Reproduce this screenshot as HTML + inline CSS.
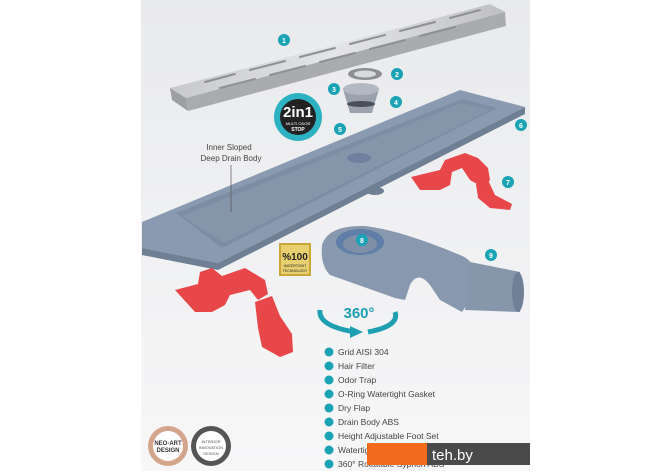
<!DOCTYPE html>
<html><head><style>
body{margin:0;width:670px;height:471px;overflow:hidden;background:#fff;font-family:"Liberation Sans",sans-serif}
</style></head><body>
<svg width="670" height="471" viewBox="0 0 670 471" xmlns="http://www.w3.org/2000/svg">
<defs>
<linearGradient id="bg" x1="0" y1="0" x2="0" y2="1"><stop offset="0" stop-color="#e9eaec"/><stop offset="1" stop-color="#f7f7f8"/></linearGradient>
<linearGradient id="st" x1="0" y1="0" x2="1" y2="0"><stop offset="0" stop-color="#c8c9cb"/><stop offset=".5" stop-color="#e4e5e6"/><stop offset="1" stop-color="#bfc0c2"/></linearGradient>
</defs>
<rect x="141" y="0" width="389" height="471" fill="url(#bg)"/>
<!-- grid -->
<polygon points="170,88 490,4 505,12 186,98" fill="url(#st)"/>
<polygon points="186,98 505,12 506,26 188,111" fill="#a9abae"/>
<polygon points="170,88 186,98 188,111 172,100" fill="#9d9fa2"/>
<g stroke="#8e9094" stroke-width="2" stroke-linecap="round">
<line x1="205" y1="82" x2="235" y2="74"/><line x1="250" y1="70" x2="285" y2="61"/><line x1="300" y1="57" x2="335" y2="48"/><line x1="350" y1="44" x2="385" y2="35"/><line x1="400" y1="31" x2="435" y2="22"/><line x1="450" y1="18" x2="480" y2="10"/>
<line x1="220" y1="88" x2="255" y2="79"/><line x1="270" y1="75" x2="305" y2="66"/><line x1="320" y1="62" x2="355" y2="53"/><line x1="370" y1="49" x2="405" y2="40"/><line x1="420" y1="36" x2="455" y2="27"/>
</g>
<!-- drain body -->
<polygon points="142,222 460,90 525,107 218,263 142,248" fill="#8a9ab0"/>
<polygon points="218,263 525,107 525,114 218,270 142,255 142,248" fill="#6f7f94"/>
<polygon points="176,213 462,99 497,108 222,248" fill="#7d8da3"/>
<polygon points="182,216 462,103 490,110 224,243" fill="#8595aa"/>
<ellipse cx="359" cy="158" rx="12" ry="5" fill="#7080a0"/>
<ellipse cx="375" cy="191" rx="9" ry="4" fill="#6f7f94"/>
<!-- filter parts -->
<ellipse cx="365" cy="74" rx="17" ry="6" fill="#8c8e92"/>
<ellipse cx="365" cy="74" rx="11" ry="3.5" fill="#d9dadc"/>
<path d="M343,89 L379,89 L372,113 L350,113 Z" fill="#9aa2ae"/>
<ellipse cx="361" cy="89" rx="18" ry="6" fill="#b3b9c2"/>
<ellipse cx="361" cy="104" rx="14" ry="3" fill="#4a4f57"/>
<!-- 2in1 badge -->
<circle cx="298" cy="117" r="24" fill="#2db2c4"/>
<circle cx="298" cy="117" r="18" fill="#222"/>
<text x="298" y="117" font-size="15" font-weight="bold" fill="#fff" text-anchor="middle">2in1</text>
<text x="298" y="125" font-size="4" fill="#fff" text-anchor="middle">MULTI ODOR</text>
<text x="298" y="131" font-size="5" font-weight="bold" fill="#fff" text-anchor="middle">STOP</text>
<!-- inner sloped label -->
<text x="229" y="150" font-size="8" fill="#444" text-anchor="middle">Inner Sloped</text>
<text x="231" y="161" font-size="8" fill="#444" text-anchor="middle">Deep Drain Body</text>
<line x1="231" y1="165" x2="231" y2="212" stroke="#555" stroke-width=".7"/>
<!-- right foot -->
<g fill="#e8474a">
<path d="M411,177 L440,170 L445,160 L465,153 L478,158 L488,168 L490,180 L484,188 L470,180 L462,168 L452,172 L450,185 L440,190 L420,190 Z"/>
<path d="M476,184 L488,180 L495,195 L512,204 L510,210 L490,208 L478,198 Z"/>
</g>
<!-- syphon -->
<path d="M322,245 Q328,225 365,226 Q400,230 460,255 Q478,262 472,280 L470,300 L462,312 L440,300 L430,285 Q418,270 410,285 L405,300 L395,298 L330,275 Q320,265 322,245 Z" fill="#8898ae"/>
<ellipse cx="360" cy="242" rx="24" ry="13" fill="#5f7fa8"/>
<ellipse cx="360" cy="244" rx="17" ry="9" fill="#7f8fa6"/>
<polygon points="470,262 520,272 520,312 465,310" fill="#8696ab"/>
<ellipse cx="518" cy="292" rx="6" ry="20" fill="#6f8097"/>
<!-- 100 badge -->
<rect x="279" y="243" width="32" height="33" fill="#c9a53a"/>
<rect x="281" y="245" width="28" height="29" fill="#e8d070"/>
<text x="295" y="260" font-size="10" font-weight="bold" fill="#222" text-anchor="middle">%100</text>
<text x="295" y="267" font-size="3.5" fill="#222" text-anchor="middle">WATERTIGHT</text>
<text x="295" y="272" font-size="3.5" fill="#222" text-anchor="middle">TECHNOLOGY</text>
<!-- 360 -->
<path d="M320,310 Q318,326 355,332 M395,312 Q400,326 368,332" fill="none" stroke="#1e9fb2" stroke-width="5"/>
<polygon points="350,326 363,332 350,338" fill="#1e9fb2"/>
<text x="359" y="318" font-size="15" font-weight="bold" fill="#1e9fb2" text-anchor="middle">360°</text>
<!-- left foot -->
<g fill="#e8474a">
<path d="M175,290 L198,284 L200,272 L212,268 L222,276 L245,268 L265,280 L268,294 L258,300 L250,290 L230,295 L225,305 L212,312 L195,312 Z"/>
<path d="M255,302 L272,296 L280,316 L292,334 L293,352 L280,357 L262,347 L258,328 Z"/>
</g>
<!-- medals -->
<circle cx="168" cy="446" r="20" fill="#d4a58a"/><circle cx="168" cy="446" r="15" fill="#fff"/>
<text x="168" y="445" font-size="6" font-weight="bold" fill="#333" text-anchor="middle">NEO-ART</text>
<text x="168" y="452" font-size="6" font-weight="bold" fill="#333" text-anchor="middle">DESIGN</text>
<circle cx="211" cy="446" r="20" fill="#555"/><circle cx="211" cy="446" r="15" fill="#fff"/>
<text x="211" y="443" font-size="4" fill="#555" text-anchor="middle">INTERIOR</text>
<text x="211" y="449" font-size="4" fill="#555" text-anchor="middle">INNOVATION</text>
<text x="211" y="455" font-size="4" fill="#555" text-anchor="middle">DESIGN</text>
<!-- number markers -->
<g font-size="7" font-weight="bold" fill="#fff" text-anchor="middle">
<circle cx="284" cy="40" r="6" fill="#1aa3b5"/><text x="284" y="43">1</text>
<circle cx="397" cy="74" r="6" fill="#1aa3b5"/><text x="397" y="77">2</text>
<circle cx="334" cy="89" r="6" fill="#1aa3b5"/><text x="334" y="92">3</text>
<circle cx="396" cy="102" r="6" fill="#1aa3b5"/><text x="396" y="105">4</text>
<circle cx="340" cy="129" r="6" fill="#1aa3b5"/><text x="340" y="132">5</text>
<circle cx="521" cy="125" r="6" fill="#1aa3b5"/><text x="521" y="128">6</text>
<circle cx="508" cy="182" r="6" fill="#1aa3b5"/><text x="508" y="185">7</text>
<circle cx="362" cy="240" r="6" fill="#1aa3b5"/><text x="362" y="243">8</text>
<circle cx="491" cy="255" r="6" fill="#1aa3b5"/><text x="491" y="258">9</text>
</g>
<!-- legend -->
<g font-size="8.5" fill="#444">
<g fill="#1aa3b5"><circle cx="329" cy="352" r="4.5"/><circle cx="329" cy="366" r="4.5"/><circle cx="329" cy="380" r="4.5"/><circle cx="329" cy="394" r="4.5"/><circle cx="329" cy="408" r="4.5"/><circle cx="329" cy="422" r="4.5"/><circle cx="329" cy="436" r="4.5"/><circle cx="329" cy="450" r="4.5"/><circle cx="329" cy="464" r="4.5"/></g>
<text x="338" y="355">Grid AISI 304</text>
<text x="338" y="369">Hair Filter</text>
<text x="338" y="383">Odor Trap</text>
<text x="338" y="397">O-Ring Watertight Gasket</text>
<text x="338" y="411">Dry Flap</text>
<text x="338" y="425">Drain Body ABS</text>
<text x="338" y="439">Height Adjustable Foot Set</text>
<text x="338" y="453">Watertight</text>
<text x="338" y="467">360° Rotatable Syphon ABS</text>
</g>
<rect x="367" y="443" width="60" height="22" fill="#f26b1d"/>
<rect x="427" y="443" width="103" height="22" fill="#4a4a4a"/>
<text x="432" y="460" font-size="15" fill="#fff">teh.by</text>
</svg>
</body></html>
